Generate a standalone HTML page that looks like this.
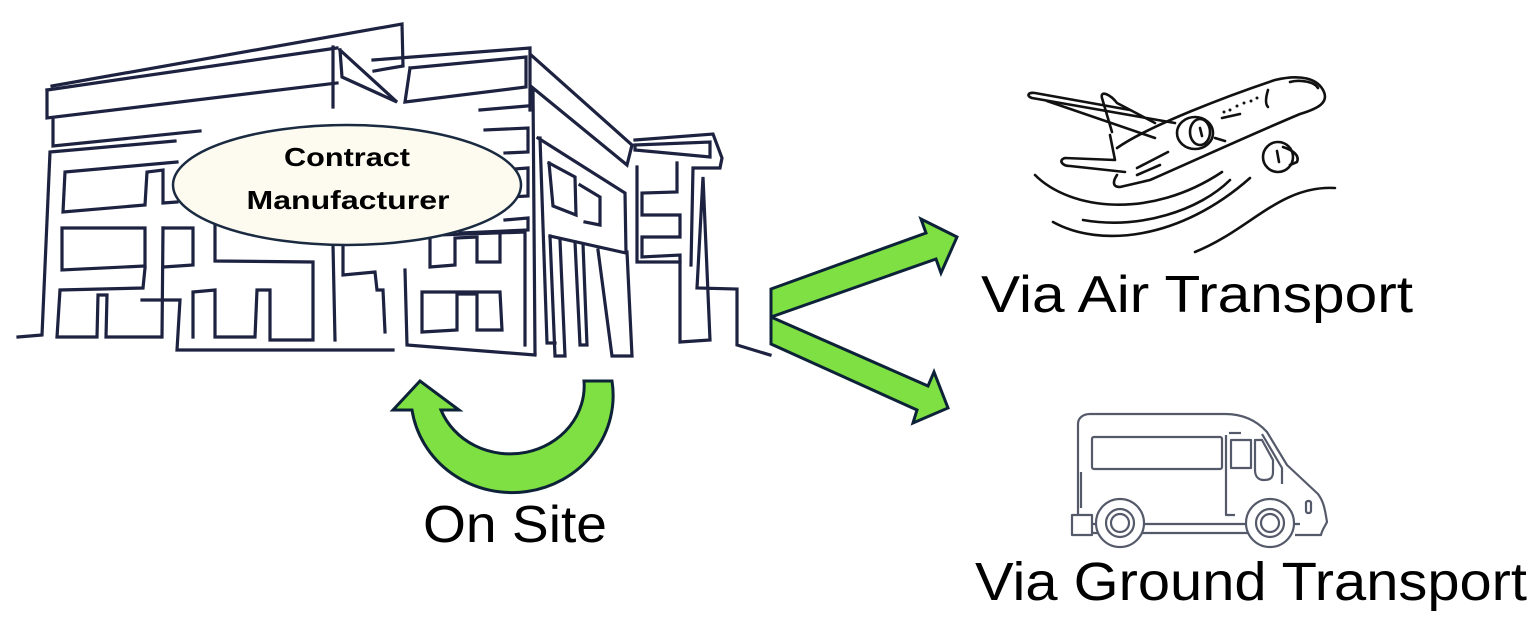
<!DOCTYPE html>
<html><head><meta charset="utf-8"><style>
html,body{margin:0;padding:0;background:#fff;}
svg{display:block;}
text{font-family:"Liberation Sans",sans-serif;}
</style></head><body>
<svg width="1539" height="629" viewBox="0 0 1539 629" xmlns="http://www.w3.org/2000/svg">
<g fill="none" stroke="#1d2240" stroke-width="3.2" stroke-linejoin="miter" stroke-linecap="square">
<polyline points="52,86 402,24 403,66 374,71"/>
<polyline points="47,90 337,48"/>
<polyline points="47,90 47,118 337,83"/>
<polyline points="53,118 53,146 200,131"/>
<polyline points="333,47 333,107"/>
<polyline points="340,50 397,102 342,77 340,50"/>
<polyline points="373,60 530,48 530,110"/>
<polyline points="410,68 526,57 526,87 405,102 410,68"/>
<polyline points="480,110 527,106"/>
<polyline points="485,130 528,128 528,152 505,153"/>
<polyline points="500,170 528,168 528,196 510,197"/>
<polyline points="505,220 528,218 528,230 460,233"/>
<polyline points="18,337 42,335 50,152 175,141"/>
<polyline points="177,162 65,172 63,212 145,205 147,172 163,170 163,203 177,202"/>
<polyline points="62,228 62,270 145,266 145,228 62,228"/>
<polyline points="163,228 193,228 193,265 163,267"/>
<polyline points="163,228 162,337"/>
<polyline points="145,268 143,288 60,290 57,337 97,337 98,295 107,295 106,337 160,337"/>
<polyline points="142,300 180,300 177,350 393,350"/>
<polyline points="193,337 193,292 215,290 215,337 255,337 257,290 270,290 270,340 313,340 313,262 215,261 215,225"/>
<polyline points="333,245 335,340"/>
<polyline points="343,243 343,275 375,272 377,290 383,290 385,332"/>
<polyline points="405,270 407,345 535,355"/>
<polyline points="410,236 525,232 525,345"/>
<polyline points="430,236 430,267 455,265 455,238 477,237 477,262 500,262 500,234"/>
<polyline points="422,292 422,332 457,330 457,294 477,294 477,330 502,330 500,292 422,292"/>
<polyline points="531,55 632,145 627,165 533,88 535,353"/>
<polyline points="538,138 625,193 626,253 550,236"/>
<polyline points="540,138 547,343 555,343"/>
<polyline points="549,163 575,177 576,215 553,206 549,163"/>
<polyline points="580,185 600,197 600,225 585,222"/>
<polyline points="550,236 555,356 565,356 560,240"/>
<polyline points="575,242 580,345 587,345 583,244"/>
<polyline points="598,250 612,356 632,356 627,252"/>
<polyline points="635,140 713,134 722,158 720,168 693,168 691,265"/>
<polyline points="635,145 710,142 710,157 635,150 635,145"/>
<polyline points="637,167 637,262 680,262 680,255 642,257 642,237 680,237 680,215 642,215 642,193 677,192 677,163"/>
<polyline points="680,262 680,342 710,340 703,177 697,288 737,289 737,345 770,355"/>
</g>
<ellipse cx="347" cy="185" rx="174" ry="60" fill="#fdfbf0" stroke="#1a2a40" stroke-width="2.5"/>
<text x="347" y="166" font-size="26" font-weight="bold" text-anchor="middle" fill="#000" textLength="126" lengthAdjust="spacingAndGlyphs">Contract</text>
<text x="348" y="209" font-size="26" font-weight="bold" text-anchor="middle" fill="#000" textLength="203" lengthAdjust="spacingAndGlyphs">Manufacturer</text>

<g fill="#7ee043" stroke="#0d2238" stroke-width="3" stroke-linejoin="miter">
<polygon points="771,289 926,233 921,219 957,237 941,273 936,259 771,317"/>
<polygon points="771,317 928,386 934,372 948,408 913,423 917,410 771,344"/>
<path d="M612,381 L584,381 A74,68 0 0 1 441,410 L459,410 L420,381 L393,410 L412,410 A100,96 0 0 0 612,381 Z"/>
</g>

<text x="423" y="542" font-size="52" fill="#000" textLength="184" lengthAdjust="spacingAndGlyphs">On Site</text>
<text x="981" y="312" font-size="52" fill="#000" textLength="432" lengthAdjust="spacingAndGlyphs">Via Air Transport</text>
<text x="975" y="600" font-size="54" fill="#000" textLength="552" lengthAdjust="spacingAndGlyphs">Via Ground Transport</text>

<g fill="none" stroke="#111" stroke-width="2.6" stroke-linecap="round" stroke-linejoin="round">
<path d="M1117,148 C1150,125 1230,95 1275,80 C1300,74 1318,78 1324,92 C1328,102 1320,108 1300,114 C1250,135 1200,158 1150,180 L1120,187 C1112,187 1113,181 1117,175"/>
<path d="M1175,123 L1032,98 C1026,96 1028,92 1035,93 L1130,110"/>
<path d="M1047,101 L1155,138"/>
<path d="M1155,123 L1117,103 C1110,94 1100,90 1102,98 L1112,132"/>
<path d="M1110,135 L1115,160 L1065,158 C1058,160 1062,166 1070,166 L1125,172"/>
<path d="M1137,168 L1168,152"/>
<path d="M1137,175 L1160,165"/>
<ellipse cx="1195" cy="133" rx="18" ry="16"/>
<ellipse cx="1200" cy="132" rx="10" ry="13"/>
<path d="M1200,128 L1202,136"/>
<path d="M1215,138 L1225,141"/>
<ellipse cx="1278" cy="157" rx="15" ry="15"/>
<path d="M1283,147 C1292,150 1300,155 1297,162 L1290,165"/>
<path d="M1277,151 L1279,162"/>
<path d="M1222,118 L1240,114"/>
<path d="M1290,82 C1300,79 1315,82 1318,88"/>
<path d="M1268,90 C1265,100 1266,105 1268,107"/>
<path d="M1035,175 C1070,210 1150,220 1222,172"/>
<path d="M1053,222 C1100,248 1180,240 1250,178"/>
<path d="M1083,220 C1140,230 1200,210 1230,180"/>
<path d="M1195,252 C1250,230 1280,185 1335,188"/>
</g>
<g fill="#111"><circle cx="1224" cy="112" r="1.5"/><circle cx="1230" cy="110" r="1.5"/><circle cx="1237" cy="106" r="1.5"/><circle cx="1244" cy="103" r="1.5"/><circle cx="1251" cy="101" r="1.5"/><circle cx="1257" cy="98" r="1.5"/></g>

<g fill="none" stroke="#555a6a" stroke-width="2.2" stroke-linejoin="round">
<path d="M1078,514 L1078,424 C1078,418 1083,414 1090,414 L1225,414 C1245,414 1258,422 1267,432 L1287,465 L1318,494 C1324,502 1325,510 1327,522 C1324,528 1322,530 1321,535 L1295,535"/>
<rect x="1092" y="437" width="130" height="32" rx="2"/>
<path d="M1226,435 L1226,515 L1235,515"/>
<path d="M1229,433 L1241,433"/>
<rect x="1231" y="440" width="20" height="28"/>
<path d="M1255,440 L1262,440 L1273,460 L1273,472 C1273,478 1270,480 1264,480 C1258,480 1255,476 1255,470 Z"/>
<path d="M1262,434 L1282,468 L1282,484"/>
<rect x="1306" y="501" width="5" height="12" rx="2"/>
<rect x="1072" y="515" width="20" height="20"/>
<path d="M1092,524 L1300,524 M1092,533 L1250,533"/>
<path d="M1081,472 L1081,508"/>
<circle cx="1120" cy="523" r="24" fill="#fff"/>
<circle cx="1120" cy="523" r="14"/><circle cx="1120" cy="523" r="9"/>
<circle cx="1270" cy="523" r="24" fill="#fff"/>
<circle cx="1270" cy="523" r="14"/><circle cx="1270" cy="523" r="9"/>
</g>
</svg>
</body></html>
